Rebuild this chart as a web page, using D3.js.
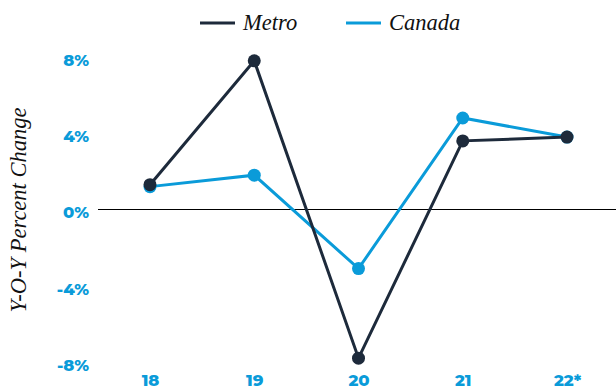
<!DOCTYPE html>
<html><head><meta charset="utf-8">
<script src="https://cdn.jsdelivr.net/npm/d3@7"></script>
<style>body{margin:0;background:#fff}</style>
</head><body><svg id="c" width="616" height="390"></svg>
<script>
const categories = ["18","19","20","21","22*"];
const metro = [1.3, 7.8, -7.8, 3.6, 3.8];
const canada = [1.2, 1.8, -3.1, 4.8, 3.8];
const yTicks = [8, 4, 0, -4, -8];
const seriesNames = ["Metro","Canada"];

const dark = "#1d2a3b", blue = "#0a9bd9";
const svg = d3.select("#c");
const x = d3.scalePoint().domain(categories).range([150, 567]);
const y = d3.scaleLinear().domain([-8, 8]).range([362, 57]);

// zero line
svg.append("line").attr("x1", 98).attr("x2", 616).attr("y1", y(0)).attr("y2", y(0))
  .attr("stroke", "#000").attr("stroke-width", 1.2);

// y axis
const yAxis = d3.axisLeft(y).tickValues(yTicks).tickSize(0).tickPadding(0)
  .tickFormat(d => d + "%");
const gy = svg.append("g").attr("transform", "translate(89,3)").call(yAxis);
gy.select(".domain").remove();
gy.selectAll("text").attr("fill", blue).style("font-family", "Montserrat, 'Open Sans', sans-serif")
  .style("font-weight", "800").style("font-size", "16.5px");

// x axis
const xAxis = d3.axisBottom(x).tickSize(0).tickPadding(0);
const gx = svg.append("g").attr("transform", "translate(0,374)").call(xAxis);
gx.select(".domain").remove();
gx.selectAll("text").attr("fill", blue).style("font-family", "Montserrat, 'Open Sans', sans-serif")
  .style("font-weight", "800").style("font-size", "16.5px");

// y title
svg.append("text").attr("transform", "translate(26,210) rotate(-90)")
  .attr("text-anchor", "middle").style("font-family", "'Liberation Serif', serif")
  .style("font-style", "italic").style("font-size", "22.5px").attr("fill", "#111")
  .text("Y-O-Y Percent Change");

const line = d3.line().x((d, i) => x(categories[i])).y(d => y(d));
function drawSeries(vals, color) {
  svg.append("path").datum(vals).attr("d", line).attr("fill", "none")
    .attr("stroke", color).attr("stroke-width", 3);
  svg.append("g").selectAll("circle").data(vals).join("circle")
    .attr("cx", (d, i) => x(categories[i])).attr("cy", d => y(d)).attr("r", 6.5).attr("fill", color);
}
drawSeries(canada, blue);
drawSeries(metro, dark);

// legend
const legend = [{name: seriesNames[0], color: dark, x: 200}, {name: seriesNames[1], color: blue, x: 346}];
legend.forEach(l => {
  svg.append("line").attr("x1", l.x).attr("x2", l.x + 35).attr("y1", 23).attr("y2", 23)
    .attr("stroke", l.color).attr("stroke-width", 3);
  svg.append("text").attr("x", l.x + 43).attr("y", 30).style("font-family", "'Liberation Serif', serif")
    .style("font-style", "italic").style("font-size", "22.5px").attr("fill", "#111").text(l.name);
});
</script></body></html>
